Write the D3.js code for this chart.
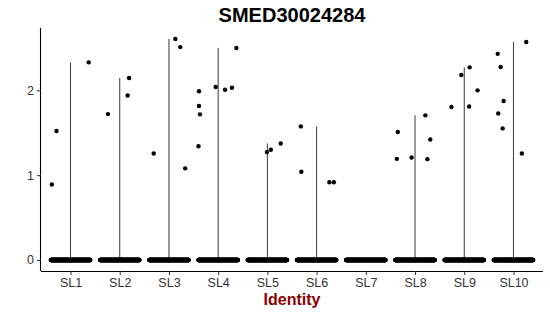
<!DOCTYPE html>
<html>
<head>
<meta charset="utf-8">
<script src="https://cdn.jsdelivr.net/npm/d3@7"></script>
<style>
    body { margin: 0; background: #fff; }
    text { font-family: "Liberation Sans", Arial, sans-serif; }
</style>
</head>
<body>
<svg id="chart"></svg>
<script>
const title = "SMED30024284";
const categories = ["SL1", "SL2", "SL3", "SL4", "SL5", "SL6", "SL7", "SL8", "SL9", "SL10"];
const yTicks = [0, 1, 2];

// non-zero expression values per cluster
const values = [
    [2.33, 1.52, 0.89],
    [2.145, 1.94, 1.72],
    [2.606, 2.51, 1.256, 1.08],
    [1.99, 1.815, 1.717, 1.34, 2.04, 2.007, 2.03, 2.5],
    [1.272, 1.30, 1.374],
    [1.575, 1.04, 0.917, 0.917],
    [],
    [1.705, 1.508, 1.421, 1.192, 1.209, 1.189],
    [2.271, 2.18, 2.0, 1.803, 1.81],
    [2.57, 2.43, 2.275, 1.874, 1.728, 1.551, 1.256]
];
// horizontal jitter of those points (fraction of a category step)
const jitter = [
    [0.37, -0.285, -0.38],
    [0.19, 0.16, -0.24],
    [0.13, 0.23, -0.31, 0.33],
    [-0.39, -0.39, -0.37, -0.4, -0.05, 0.14, 0.28, 0.37],
    [-0.01, 0.07, 0.27],
    [-0.32, -0.31, 0.26, 0.35],
    [],
    [0.21, -0.35, 0.31, -0.37, -0.07, 0.25],
    [0.11, -0.06, 0.27, -0.26, 0.1],
    [0.26, -0.32, -0.26, -0.2, -0.31, -0.22, 0.17]
];
// number of cells at zero in each cluster
const zeroCounts = [300, 300, 300, 300, 300, 300, 300, 300, 300, 300];

const width = 550;
const height = 316;
const margin = { top: 28, right: 7, bottom: 45, left: 41 };

const svg = d3.select("#chart").attr("width", width).attr("height", height);

const x = d3.scalePoint()
    .domain(categories)
    .range([margin.left, width - margin.right])
    .padding(0.6);
const step = x.step();

const y = d3.scaleLinear()
    .domain([-0.13, 2.735])
    .range([height - margin.bottom, margin.top]);

// violins (collapsed to lines, from 0 to the max value)
svg.append("g")
    .selectAll("line")
    .data(categories.filter((c, i) => values[i].length > 0))
    .join("line")
    .attr("x1", c => x(c))
    .attr("x2", c => x(c))
    .attr("y1", y(0))
    .attr("y2", c => y(d3.max(values[categories.indexOf(c)])))
    .attr("stroke", "#3a3a3a")
    .attr("stroke-width", 1);

// points at zero
const zeros = [];
categories.forEach((c, i) => {
    const n = zeroCounts[i];
    for (let k = 0; k < n; k++) {
        zeros.push({ cat: c, off: -0.4 + 0.8 * k / (n - 1) });
    }
});
svg.append("g")
    .selectAll("circle")
    .data(zeros)
    .join("circle")
    .attr("cx", d => x(d.cat) + d.off * step)
    .attr("cy", y(0))
    .attr("r", 2.2)
    .attr("fill", "#000");

// non-zero points
const pts = [];
categories.forEach((c, i) => {
    values[i].forEach((v, j) => pts.push({ cat: c, v: v, off: jitter[i][j] }));
});
svg.append("g")
    .selectAll("circle")
    .data(pts)
    .join("circle")
    .attr("cx", d => x(d.cat) + d.off * step)
    .attr("cy", d => y(d.v))
    .attr("r", 2.2)
    .attr("fill", "#000");

// axes
const xAxis = svg.append("g")
    .attr("transform", `translate(0,${height - margin.bottom})`)
    .call(d3.axisBottom(x).tickSize(4).tickPadding(3).tickSizeOuter(0));
xAxis.select(".domain").attr("d", `M${margin.left},0.5H${width - margin.right}`);

const yAxis = svg.append("g")
    .attr("transform", `translate(${margin.left},0)`)
    .call(d3.axisLeft(y).tickValues(yTicks).tickFormat(d3.format("d")).tickSize(4).tickPadding(3).tickSizeOuter(0));
yAxis.select(".domain").attr("d", `M-0.5,${height - margin.bottom}V${margin.top}`);

svg.selectAll(".domain").attr("stroke", "#000").attr("stroke-width", 1.1);
svg.selectAll(".tick line").attr("stroke", "#333");
svg.selectAll(".tick text")
    .attr("fill", "#333")
    .style("font-size", "12.5px")
    .style("font-family", "'Liberation Sans', Arial, sans-serif");

// title
svg.append("text")
    .attr("x", (margin.left + width - margin.right) / 2)
    .attr("y", 22)
    .attr("text-anchor", "middle")
    .style("font-size", "20px")
    .style("font-weight", "bold")
    .text(title);

// x label
svg.append("text")
    .attr("x", (margin.left + width - margin.right) / 2)
    .attr("y", 305)
    .attr("text-anchor", "middle")
    .attr("fill", "#8B0000")
    .style("font-size", "16px")
    .style("font-weight", "bold")
    .text("Identity");
</script>
</body>
</html>
